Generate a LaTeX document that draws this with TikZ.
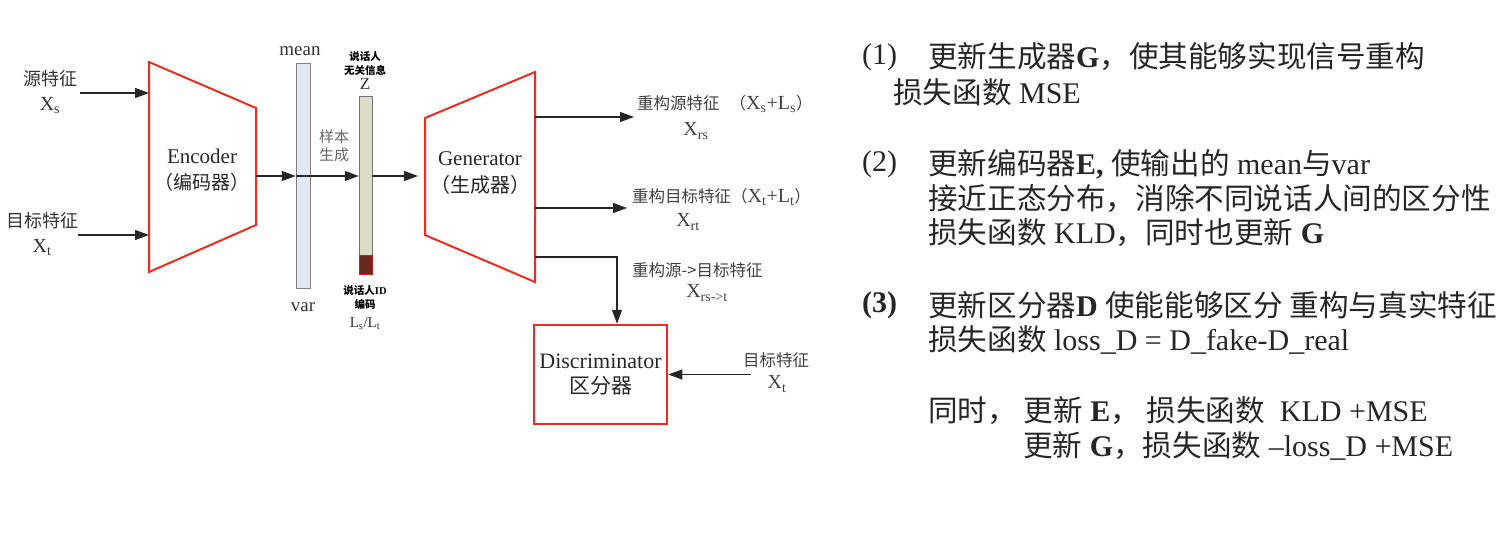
\documentclass[tikz,border=0pt]{standalone}
\usepackage{fontspec}
\setmainfont{Liberation Serif}
\newfontfamily\cjk{Noto Sans CJK SC}
\usetikzlibrary{arrows.meta,positioning}
\definecolor{NetRed}{HTML}{EE2B1F}
\definecolor{MeanBlue}{HTML}{E2E7F4}
\definecolor{ZBeige}{HTML}{DCDDC8}
\definecolor{IdBrown}{HTML}{662A20}
\definecolor{LabelGray}{HTML}{333333}
\newcommand\zhs[1]{{\cjk\fontsize{16.5}{20}\selectfont#1}}
\newcommand\zhn[1]{{\cjk\fontsize{29.6}{35}\selectfont#1}}

\begin{document}
\begin{tikzpicture}[x=1pt,y=-1pt,
  arr/.style={-{Triangle[length=14pt,width=10pt]},line width=1.1pt,draw=black!85},
  lbl/.style={font=\fontsize{20}{25}\selectfont,text=LabelGray,inner sep=0pt,align=center},
  olbl/.style={font=\fontsize{20}{22}\selectfont,text=black!75,inner sep=0pt},
  tinylbl/.style={font=\fontsize{10.5}{14}\selectfont\bfseries,inner sep=0pt,align=center},
  note/.style={font=\fontsize{30}{35}\selectfont,text=black!85,anchor=west,inner sep=0pt}]
  \useasboundingbox (0,0) rectangle (1511,538);
  % encoder
  \draw[NetRed,line width=2pt] (149,62)--(256,108)--(256,225)--(149,272)--cycle;
  \coordinate (encS) at (149,93); \coordinate (encT) at (149,235); \coordinate (encO) at (256,176);
  \node[lbl,font=\fontsize{21}{26}\selectfont,text=black!85] (enc) at (202,170) {Encoder\\{\cjk\fontsize{19}{26}\selectfont （编码器）}};
  \node[lbl] (src) at (50,92) {{\cjk\fontsize{18}{25}\selectfont 源特征}\\X\textsubscript{s}};
  \node[lbl] (tgt) at (42,234) {{\cjk\fontsize{18}{25}\selectfont 目标特征}\\X\textsubscript{t}};
  \draw[arr] ([xshift=3pt]encS -| src.east)--(encS);
  \draw[arr] ([xshift=0pt]encT -| tgt.east)--(encT);
  % mean/var and z
  \node[draw=black!50,fill=MeanBlue,minimum width=14pt,minimum height=225pt,inner sep=0pt] (mv) at (303,175.5) {};
  \node[lbl,font=\fontsize{19}{22}\selectfont,above=7pt of mv,xshift=-3pt] (mean) {mean};
  \node[lbl,font=\fontsize{19}{22}\selectfont,below=14pt of mv] (var) {var};
  \node[draw=black!55,fill=ZBeige,minimum width=13pt,minimum height=178pt,inner sep=0pt] (zb) at (365.5,185) {};
  \node[draw=NetRed!80!black,fill=IdBrown,minimum width=13pt,minimum height=19pt,inner sep=0pt,anchor=south] (id) at (zb.south) {};
  \node[tinylbl] (zinfo) at (365,64) {{\cjk 说话人}\\{\cjk 无关信息}};
  \node[lbl,font=\fontsize{17}{20}\selectfont,below=2pt of zinfo] (z) {Z};
  \node[tinylbl] (idinfo) at (365,297) {{\cjk 说话人}ID\\{\cjk 编码}};
  \node[lbl,font=\fontsize{15}{18}\selectfont] (lst) at (365,324) {L\textsubscript{s}/L\textsubscript{t}};
  \node[lbl,font=\cjk\fontsize{15}{18}\selectfont,text=black!60] (samp) at (334,146) {样本\\生成};
  \draw[arr] (encO)--(encO -| mv.west);
  \draw[line width=1.1pt,draw=black!85] (encO -| mv.west)--(encO -| mv.east);
  \draw[arr] (encO -| mv.east)--(encO -| zb.west);
  % generator
  \draw[NetRed,line width=2pt] (425,118)--(535,72)--(535,282)--(425,235)--cycle;
  \coordinate (genI) at (418,176); \coordinate (genA) at (535,117); \coordinate (genB) at (535,208); \coordinate (genC) at (535,257);
  \node[lbl,font=\fontsize{21}{27}\selectfont,text=black!85] (gen) at (480,173) {Generator\\{\cjk\fontsize{20}{27}\selectfont （生成器）}};
  \draw[arr] (genI -| zb.east)--(genI);
  \node[olbl,anchor=west] (recS) at (637,104) {\zhs{重构源特征}\hspace{10pt}\zhs{（}X\textsubscript{s}+L\textsubscript{s}\zhs{）}};
  \node[olbl] (xrs) at (696,131) {X\textsubscript{rs}};
  \node[olbl,anchor=west] (recT) at (632,197) {\zhs{重构目标特征（}X\textsubscript{t}+L\textsubscript{t}\zhs{）}};
  \node[olbl] (xrt) at (688,222) {X\textsubscript{rt}};
  \node[olbl,anchor=west] (recST) at (632,270) {\zhs{重构源->目标特征}};
  \node[olbl] (xrst) at (707,293) {X\textsubscript{rs->t}};
  \draw[arr] (genA)--([xshift=-3pt]genA -| recS.west);
  \draw[arr] (genB)--([xshift=-5pt]genB -| recT.west);
  % discriminator
  \node[draw=NetRed,line width=2.5pt,minimum width=133pt,minimum height=99pt,align=center,inner sep=0pt,
    font=\fontsize{22}{25}\selectfont,text=black!85] (disc) at (600.5,374.5) {Discriminator\\{\cjk\fontsize{21}{25}\selectfont 区分器}};
  \coordinate (turn) at (617,257);
  \draw[arr] (genC)--(turn)--(turn |- disc.north);
  \node[olbl] (tgtD) at (776,360) {\zhs{目标特征}};
  \node[olbl] (xtD) at (777,384) {X\textsubscript{t}};
  \draw[arr] ([xshift=-16pt]disc.east -| xtD.west)--(disc.east);
  % notes
  \node[note] (n1) at (862,57) {(1)};
  \node[note] (l1) at (928,57) {\zhn{更新生成器}\textbf{G}\zhn{，使其能够实现信号重构}};
  \node[note] (l1b) at (893,92) {\zhn{损失函数} MSE};
  \node[note] (n2) at (862,164) {(2)};
  \node[note] (l2) at (928,164) {\zhn{更新编码器}\textbf{E,} \zhn{使输出的} mean\zhn{与}var};
  \node[note] (l2b) at (928,199) {\zhn{接近正态分布，消除不同说话人间的区分性}};
  \node[note] (l2c) at (928,233) {\zhn{损失函数} KLD\zhn{，同时也更新} \textbf{G}};
  \node[note] (n3) at (862,305) {\textbf{(3)}};
  \node[note] (l3) at (928,305) {\zhn{更新区分器}\textbf{D} \zhn{使能能够区分 重构与真实特征}};
  \node[note] (l3b) at (928,340) {\zhn{损失函数} loss\_D = D\_fake-D\_real};
  \node[note] (l3c) at (928,411) {\zhn{同时，\ 更新} \textbf{E}\zhn{，\ 损失函数}\ \ KLD +MSE};
  \node[note] (l3d) at (1023,446) {\zhn{更新} \textbf{G}\zhn{，损失函数} –loss\_D +MSE};
\end{tikzpicture}
\end{document}
